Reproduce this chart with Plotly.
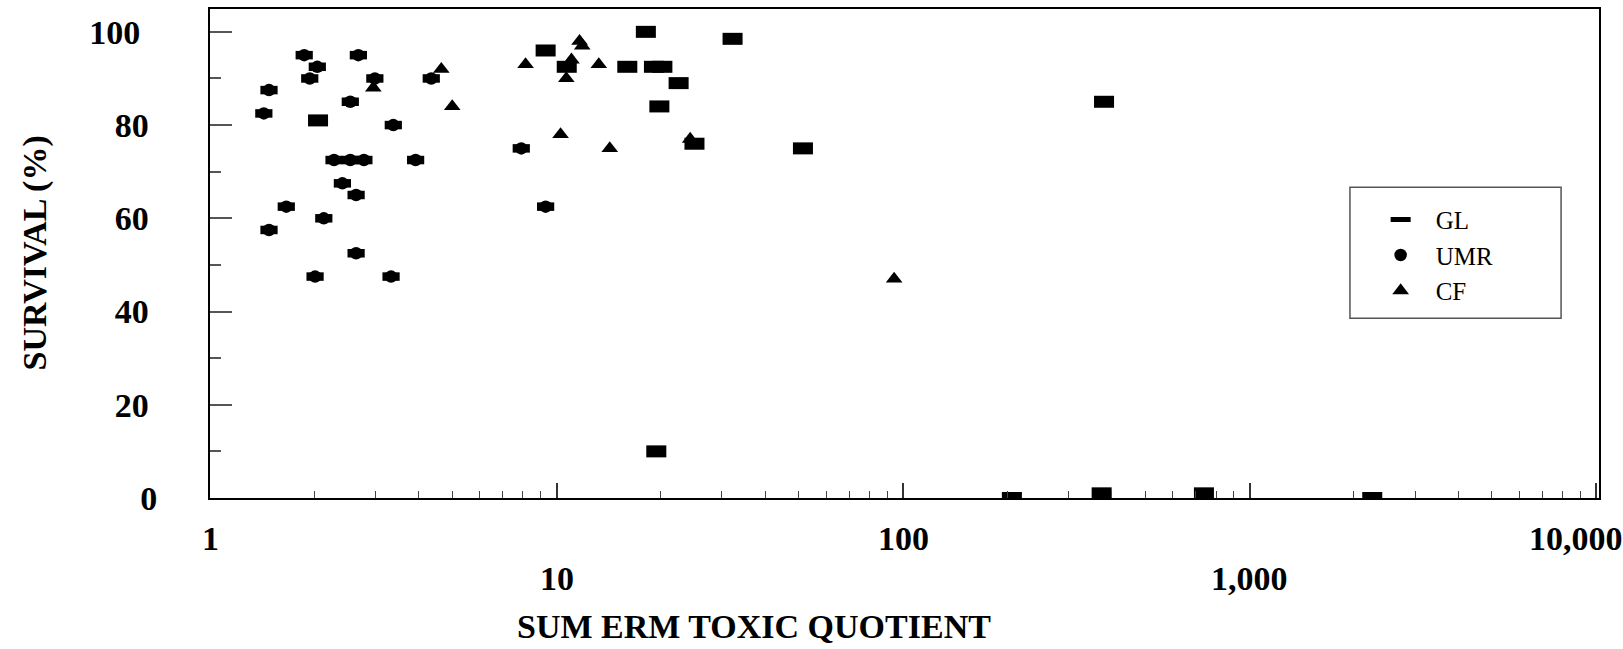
import math
import plotly.graph_objects as go

# Sum ERM toxic quotient (x) against amphipod survival in % (y), by sampling area
gl_quotient = [2.05, 9.3, 18.1, 32.2, 10.7, 16.0, 19.1, 20.2, 22.5, 19.8, 25.0,
               51.4, 380, 19.4, 206, 374, 738, 2258]
gl_survival = [81, 96, 100, 98.5, 92.5, 92.5, 92.5, 92.5, 89, 84, 76,
               75, 85, 10, 0, 1, 1, 0]

umr_quotient = [1.87, 2.68, 2.04, 1.94, 2.99, 4.35, 1.48, 2.54, 1.43, 3.38, 2.28, 2.54,
                2.78, 3.92, 2.41, 2.64, 1.66, 2.13, 1.48, 7.91, 9.3, 2.64, 2.01, 3.33]
umr_survival = [95, 95, 92.5, 90, 90, 90, 87.5, 85, 82.5, 80, 72.5, 72.5,
                72.5, 72.5, 67.5, 65, 62.5, 60, 57.5, 75, 62.5, 52.5, 47.5, 47.5]

cf_quotient = [4.65, 5.0, 8.14, 2.96, 11.65, 11.86, 11.04, 13.24, 10.67, 10.27,
               14.24, 24.3, 94.2]
cf_survival = [92, 84, 93, 88, 98, 97, 94, 93, 90, 78, 75, 77, 47]

x_tick_values = [1, 10, 100, 1000, 10000]
x_tick_labels = ["1", "10", "100", "1,000", "10,000"]
y_tick_values = [0, 20, 40, 60, 80, 100]
y_tick_labels = ["0", "20", "40", "60", "80", "100"]

SERIF = "Liberation Serif"
INK = "black"
NBSP = "\u00a0"

fig = go.Figure()

# GL: wide black rectangles (thick horizontal bar symbol)
fig.add_trace(go.Scatter(
    x=gl_quotient, y=gl_survival, mode="markers", name="GL",
    marker=dict(symbol="line-ew", size=14.3, color=INK,
                line=dict(color=INK, width=12)),
    legendgroup="GL",
))

# UMR: flattened black ovals (disc plus a short thick bar)
fig.add_trace(go.Scatter(
    x=umr_quotient, y=umr_survival, mode="markers", name="UMR",
    marker=dict(symbol="circle", size=12.5, color=INK, line=dict(width=0)),
    legendgroup="UMR",
))
fig.add_trace(go.Scatter(
    x=umr_quotient, y=umr_survival, mode="markers", name="UMR",
    marker=dict(symbol="line-ew", size=12.3, color=INK,
                line=dict(color=INK, width=8.5)),
    legendgroup="UMR", showlegend=False,
))

# CF: black triangles
fig.add_trace(go.Scatter(
    x=cf_quotient, y=cf_survival, mode="markers", name="CF",
    marker=dict(symbol="triangle-up", size=14.5, color=INK, line=dict(width=0)),
    legendgroup="CF",
))

# y labels get a little trailing room per digit so shorter labels sit further right
y_text = [lbl + NBSP * (len(lbl) - 1) for lbl in y_tick_labels]

bold = dict(family=SERIF, size=34, color=INK, weight="bold")

annotations = [
    dict(text="SURVIVAL (%)", xref="paper", yref="paper",
         x=-0.1267, y=0.5, xanchor="center", yanchor="middle",
         textangle=-90, showarrow=False, font=bold),
    dict(text="SUM ERM TOXIC QUOTIENT", xref="paper", yref="paper",
         x=0.392, y=-0.263, xanchor="center", yanchor="middle",
         showarrow=False, font=bold),
]
# decade labels on two staggered rows, placed at the tick positions of the log axis
row_y = [-0.083, -0.165]
last = len(x_tick_values) - 1
for i, (val, lbl) in enumerate(zip(x_tick_values, x_tick_labels)):
    annotations.append(dict(
        text=lbl, xref="x", yref="paper", x=math.log10(val), y=row_y[i % 2],
        xanchor="center", yanchor="middle", showarrow=False, font=bold,
        xshift=-20 if i == last else 0))

fig.update_layout(
    width=1623, height=649,
    margin=dict(l=210, r=24, t=9, b=151, autoexpand=False),
    paper_bgcolor="white", plot_bgcolor="white",
    showlegend=True,
    legend=dict(
        x=0.832, y=0.616, xanchor="left", yanchor="top",
        font=dict(family=SERIF, size=25, color=INK),
        bgcolor="rgba(0,0,0,0)", borderwidth=0,
        tracegroupgap=0, itemwidth=60,
    ),
    xaxis=dict(
        type="log", range=[0, 4.008], automargin=False,
        tickmode="array", tickvals=x_tick_values, showticklabels=False,
        ticks="inside", ticklen=15, tickwidth=1.5, tickcolor="#333",
        minor=dict(ticks="inside", ticklen=7, tickwidth=1.2, tickcolor="#444",
                   dtick="D1", showgrid=False),
        showline=True, linecolor=INK, linewidth=2, mirror=True,
        showgrid=False, zeroline=False,
    ),
    yaxis=dict(
        range=[0, 104.9], automargin=False,
        tickmode="array", tickvals=y_tick_values, ticktext=y_text,
        ticks="inside", ticklen=22, tickwidth=1.5, tickcolor="#555",
        minor=dict(ticks="inside", ticklen=11, tickwidth=1.5, tickcolor="#555",
                   dtick=10, showgrid=False),
        showline=True, linecolor=INK, linewidth=2, mirror=True,
        showgrid=False, zeroline=False,
        tickfont=bold, ticklabelstandoff=44,
    ),
    shapes=[dict(
        type="rect", xref="paper", yref="paper",
        x0=0.8207, x1=0.9727, y0=0.3674, y1=0.6356,
        line=dict(color="#555", width=1.5), fillcolor="rgba(0,0,0,0)",
    )],
    annotations=annotations,
)

fig.write_html("out.html")
